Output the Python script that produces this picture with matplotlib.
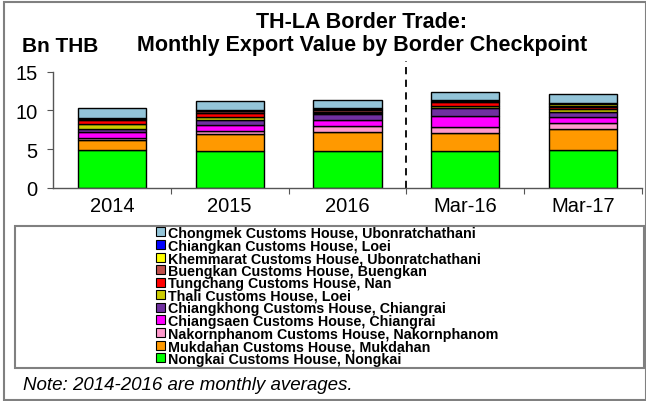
import numpy as np
import matplotlib
matplotlib.use("Agg")
import matplotlib.pyplot as plt
from matplotlib.patches import Rectangle, Patch

plt.rcParams['font.family'] = ['Liberation Sans', 'DejaVu Sans']

# categories on the x axis
periods = ['2014', '2015', '2016', 'Mar-16', 'Mar-17']

# export value by checkpoint, Bn THB (stacked bottom -> top)
nongkai = [4.85, 4.75, 4.75, 4.71, 4.93]
mukdahan = [1.35, 2.16, 2.51, 2.42, 2.63]
nakornphanom = [0.30, 0.43, 0.69, 0.78, 0.87]
chiangsaen = [0.70, 0.74, 0.78, 1.30, 0.69]
chiangkhong = [0.35, 0.65, 0.77, 1.04, 0.68]
thali = [0.70, 0.47, 0.10, 0.33, 0.35]
tungchang = [0.55, 0.52, 0.20, 0.44, 0.25]
buengkan = [0.10, 0.15, 0.25, 0.20, 0.20]
khemmarat = [0.05, 0.08, 0.15, 0.07, 0.20]
chiangkan = [0.08, 0.08, 0.15, 0.07, 0.13]
chongmek = [1.30, 1.12, 0.98, 1.04, 1.21]

series = [
    ('Nongkai Customs House, Nongkai', nongkai, '#00ff00'),
    ('Mukdahan Customs House, Mukdahan', mukdahan, '#ff9900'),
    ('Nakornphanom Customs House, Nakornphanom', nakornphanom, '#ff99cc'),
    ('Chiangsaen Customs House, Chiangrai', chiangsaen, '#ff00ff'),
    ('Chiangkhong Customs House, Chiangrai', chiangkhong, '#7030a0'),
    ('Thali Customs House, Loei', thali, '#cccc00'),
    ('Tungchang Customs House, Nan', tungchang, '#ff0000'),
    ('Buengkan Customs House, Buengkan', buengkan, '#c0504d'),
    ('Khemmarat Customs House, Ubonratchathani', khemmarat, '#ffff00'),
    ('Chiangkan Customs House, Loei', chiangkan, '#0000ff'),
    ('Chongmek Customs House, Ubonratchathani', chongmek, '#93c4d8'),
]

W, H = 646, 402
fig = plt.figure(figsize=(W / 100, H / 100), dpi=100)

# axes placed in pixel terms
ax = fig.add_axes([53 / W, 1 - 189 / H, (642 - 53) / W, (189 - 72.5) / H])

x = np.arange(len(periods))
bottom = np.zeros(len(periods))
handles = []
for name, vals, col in series:
    ax.bar(x, vals, bottom=bottom, width=0.58, color=col, edgecolor='black', linewidth=1)
    bottom += np.array(vals)
    handles.append(Patch(facecolor=col, edgecolor='black', linewidth=0.8, label=name))

ax.set_xlim(-0.5, len(periods) - 0.5)
ax.set_ylim(0, 15)
ax.set_yticks([0, 5, 10, 15])
ax.tick_params(axis='y', direction='out', length=4, color='#555555', labelsize=14.5, pad=7)

# boundary ticks between categories, labels at centers
ax.set_xticks(np.arange(len(periods)) + 0.5)
ax.set_xticklabels([])
ax.tick_params(axis='x', which='major', direction='out', length=4, color='#555555')
ax.set_xticks(x, minor=True)
ax.set_xticklabels(periods, minor=True)
ax.tick_params(axis='x', which='minor', length=0, labelsize=14.5, pad=6)

for s in ['top', 'right']:
    ax.spines[s].set_visible(False)
for s in ['left', 'bottom']:
    ax.spines[s].set_color('#555555')
    ax.spines[s].set_linewidth(1)

# dashed separator between annual averages and monthly values
ax.plot([2.5, 2.5], [0, 16.4], color='black', linestyle=(0, (4, 3)), linewidth=1.3, clip_on=False)

fig.text(362 / W, 1 - 23 / H, 'TH-LA Border Trade:', ha='center', va='center', fontsize=15.5, fontweight='bold')
fig.text(362 / W, 1 - 46 / H, 'Monthly Export Value by Border Checkpoint', ha='center', va='center',
         fontsize=15.5, fontweight='bold')
fig.text(22 / W, 1 - 46 / H, 'Bn THB', ha='left', va='center', fontsize=15, fontweight='bold')

# legend box and entries
fig.patches.append(Rectangle((15 / W, 1 - 369 / H), (644 - 15) / W, (369 - 227) / H,
                             transform=fig.transFigure, fill=False, edgecolor='#808080', linewidth=1.5))
ax.legend(handles=handles[::-1], loc='upper left', bbox_to_anchor=(156 / W, 1 - 227 / H),
          bbox_transform=fig.transFigure, frameon=False, prop={'weight': 'bold', 'size': 10.3},
          handlelength=0.6, handleheight=0.6, handletextpad=0.25, labelspacing=-0.1,
          borderpad=0, borderaxespad=0)

fig.text(23 / W, 1 - 386 / H, 'Note: 2014-2016 are monthly averages.', ha='left', va='center',
         fontsize=13.5, style='italic')

# outer frame
fig.patches.append(Rectangle((4 / W, 1 / H), (W - 4) / W, (399 - 1) / H, transform=fig.transFigure,
                             fill=False, edgecolor='#808080', linewidth=1.5))

fig.savefig('out.png', dpi=100)
